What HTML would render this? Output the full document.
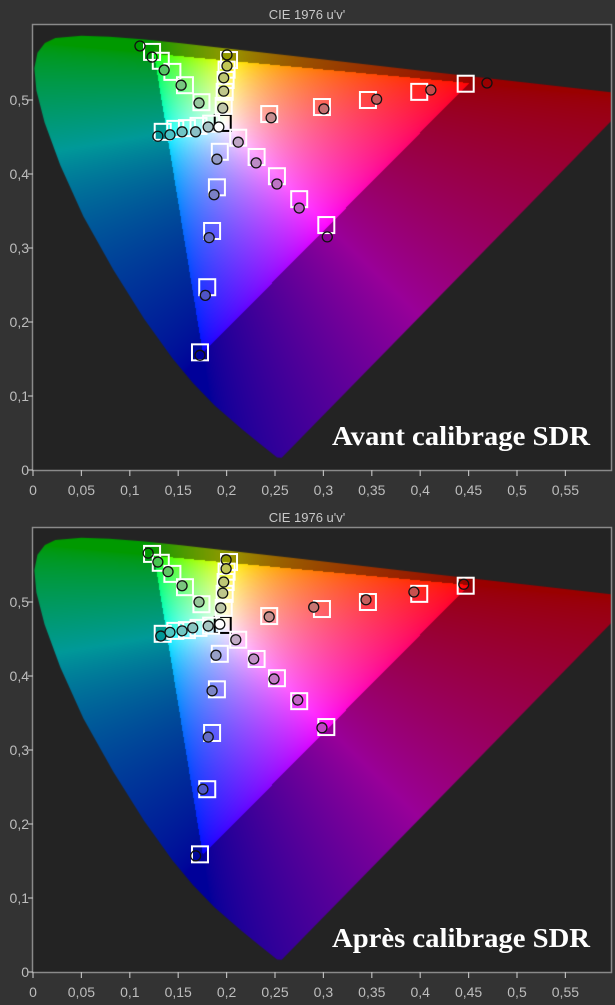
<!DOCTYPE html>
<html><head><meta charset="utf-8">
<style>
html,body{margin:0;padding:0;background:#333333;}
#wrap{position:relative;width:615px;height:1005px;overflow:hidden;background:#333333;font-family:"Liberation Sans",sans-serif;}
canvas{position:absolute;}
svg{position:absolute;left:0;top:0;}
</style></head>
<body>
<div id="wrap">
<canvas id="cv1"></canvas>
<canvas id="cv2"></canvas>
<svg id="sv" width="615" height="1005"></svg>
</div>
<script>
// ---- data ----
const seriesNames = ['white','green','green','green','green','green','yellow','yellow','yellow','yellow','yellow','cyan','cyan','cyan','cyan','cyan','blue','blue','blue','blue','blue','magenta','magenta','magenta','magenta','magenta','red','red','red','red','red'];
const targetU = [0.196,0.123,0.132,0.144,0.157,0.174,0.2025,0.200,0.199,0.198,0.197,0.134,0.147,0.159,0.171,0.184,0.193,0.190,0.185,0.180,0.1725,0.212,0.231,0.252,0.275,0.303,0.244,0.2985,0.346,0.399,0.447];
const targetV = [0.469,0.565,0.553,0.538,0.520,0.497,0.554,0.541,0.527,0.511,0.492,0.457,0.461,0.462,0.465,0.468,0.430,0.382,0.323,0.247,0.159,0.449,0.423,0.397,0.366,0.331,0.481,0.4905,0.500,0.511,0.522];
const beforeU = [0.192,0.1105,0.123,0.1355,0.153,0.1715,0.2004,0.2004,0.197,0.197,0.196,0.129,0.1415,0.154,0.168,0.181,0.190,0.187,0.182,0.178,0.1725,0.212,0.2305,0.252,0.275,0.304,0.246,0.3005,0.355,0.411,0.469];
const beforeV = [0.4635,0.573,0.558,0.5405,0.520,0.496,0.561,0.546,0.530,0.512,0.489,0.451,0.453,0.457,0.457,0.4635,0.420,0.372,0.314,0.236,0.155,0.443,0.415,0.3865,0.354,0.315,0.476,0.488,0.501,0.5135,0.523];
const afterU = [0.193,0.119,0.129,0.1395,0.154,0.1715,0.1995,0.1995,0.197,0.196,0.194,0.132,0.1415,0.154,0.165,0.181,0.189,0.185,0.181,0.1755,0.168,0.2095,0.228,0.249,0.2735,0.2985,0.244,0.290,0.344,0.3935,0.445];
const afterV = [0.470,0.566,0.554,0.541,0.522,0.500,0.557,0.545,0.527,0.512,0.492,0.454,0.459,0.461,0.465,0.4675,0.428,0.380,0.3175,0.247,0.157,0.449,0.423,0.396,0.3675,0.33,0.480,0.493,0.503,0.5135,0.524];
const xTicks = [0,0.05,0.1,0.15,0.2,0.25,0.3,0.35,0.4,0.45,0.5,0.55];
const xTickLabels = ['0','0,05','0,1','0,15','0,2','0,25','0,3','0,35','0,4','0,45','0,5','0,55'];
const yTicks = [0,0.1,0.2,0.3,0.4,0.5];
const yTickLabels = ['0','0,1','0,2','0,3','0,4','0,5'];
const locusU = [0.2569,0.2522,0.2347,0.216,0.1877,0.165,0.144,0.1147,0.0828,0.0521,0.0282,0.0119,0.0035,0.0014,0.0046,0.0123,0.0231,0.05,0.0792,0.1127,0.1531,0.2026,0.2623,0.4035,0.5202,0.6234];
const locusV = [0.0165,0.0169,0.035,0.055,0.0871,0.118,0.151,0.2044,0.2708,0.3427,0.4117,0.4699,0.513,0.543,0.5638,0.577,0.5837,0.5867,0.5856,0.582,0.5766,0.5694,0.5604,0.5393,0.5219,0.5065];
const gamutU = [0.4507,0.1250,0.1754];
const gamutV = [0.5229,0.5625,0.1579];
</script>
<script>
const NS='http://www.w3.org/2000/svg';
const sv=document.getElementById('sv');
const PL=33, PR=611, SCX=968, SCY=740;
const charts=[{top:25,bottom:470,title:"CIE 1976 u'v'",label:'Avant calibrage SDR',mu:beforeU,mv:beforeV,cv:'cv1',key:'before'},
              {top:528,bottom:972,title:"CIE 1976 u'v'",label:'Après calibrage SDR',mu:afterU,mv:afterV,cv:'cv2',key:'after'}];
function uvRGB(u,v){
  const d=6*u-16*v+12, x=9*u/d, y=4*v/d;
  const X=x/y, Y=1, Z=(1-x-y)/y;
  let r=3.2406*X-1.5372*Y-0.4986*Z, g=-0.9689*X+1.8758*Y+0.0415*Z, b=0.0557*X-0.2040*Y+1.0570*Z;
  r=Math.max(r,0);g=Math.max(g,0);b=Math.max(b,0);
  const m=Math.max(r,g,b)||1;
  const gm=1/1.6;
  return [Math.pow(r/m,gm),Math.pow(g/m,gm),Math.pow(b/m,gm)];
}
function inTri(u,v){
  const [x1,x2,x3]=gamutU,[y1,y2,y3]=gamutV;
  const d=(y2-y3)*(x1-x3)+(x3-x2)*(y1-y3);
  const a=((y2-y3)*(u-x3)+(x3-x2)*(v-y3))/d, b=((y3-y1)*(u-x3)+(x1-x3)*(v-y3))/d;
  return a>=0&&b>=0&&a+b<=1;
}
function mk(tag,attrs,parent){const e=document.createElementNS(NS,tag);for(const k in attrs)e.setAttribute(k,attrs[k]);(parent||sv).appendChild(e);return e;}
charts.forEach((c,ci)=>{
  const xs=u=>PL+u*SCX, ys=v=>c.bottom-v*SCY;
  const cv=document.getElementById(c.cv);
  const W=PR-PL, H=c.bottom-c.top;
  cv.width=W;cv.height=H;cv.style.left=PL+'px';cv.style.top=c.top+'px';
  const ctx=cv.getContext('2d');
  ctx.fillStyle='#232323';ctx.fillRect(0,0,W,H);
  const off=document.createElement('canvas');off.width=W;off.height=H;
  const oc=off.getContext('2d');const img=oc.createImageData(W,H);
  for(let py=0;py<H;py++)for(let px=0;px<W;px++){
    const u=(px+0.5)/SCX, v=(c.bottom-(c.top+py+0.5))/SCY;
    if(v<=0.005)continue;
    const rgb=uvRGB(u,v);const f=inTri(u,v)?1:0.6;
    const i=(py*W+px)*4;
    img.data[i]=rgb[0]*255*f;img.data[i+1]=rgb[1]*255*f;img.data[i+2]=rgb[2]*255*f;img.data[i+3]=255;
  }
  oc.putImageData(img,0,0);
  ctx.save();ctx.beginPath();
  for(let i=0;i<locusU.length;i++){const X=locusU[i]*SCX,Y=c.bottom-locusV[i]*SCY-c.top;if(i)ctx.lineTo(X,Y);else ctx.moveTo(X,Y);}
  ctx.closePath();ctx.clip();ctx.drawImage(off,0,0);ctx.restore();
  const g=mk('g',{});
  
  
  const fr=mk('rect',{x:PL-0.5,y:c.top-0.5,width:W+1,height:H+1,fill:'none',stroke:'#8a8a8a','stroke-width':1.5},g);
  
  const t=mk('text',{x:307,y:c.top-6,'text-anchor':'middle','font-size':13,fill:'#c8c8c8'},g);
  t.textContent=c.title;
  
  xTicks.forEach((tv,i)=>{
    const x=xs(tv);
    const tk=mk('line',{x1:x,x2:x,y1:c.bottom,y2:c.bottom+6,stroke:'#bbb','stroke-width':1.2},g);
    
    const tl=mk('text',{x:x,y:c.bottom+25,'text-anchor':'middle','font-size':14,fill:'#bdbdbd'},g);
    tl.textContent=xTickLabels[i];
    
  });
  yTicks.forEach((tv,i)=>{
    const y=ys(tv);
    const tk=mk('line',{x1:PL-5,x2:PL,y1:y,y2:y,stroke:'#bbb','stroke-width':1.2},g);
    
    const tl=mk('text',{x:PL-4,y:y+5,'text-anchor':'end','font-size':14,fill:'#bdbdbd'},g);
    tl.textContent=yTickLabels[i];
    
  });
  targetU.forEach((u,i)=>{
    const x=xs(u),y=ys(targetV[i]);
    const sq=mk('rect',{x:x-8,y:y-8,width:16,height:16,fill:'none',stroke:i===0?'#000':'#fff','stroke-width':2},g);
    
    
  });
  c.mu.forEach((u,i)=>{
    const v=c.mv[i];const x=xs(u),y=ys(v);
    let fill;
    if(i===0)fill='#ffffff';
    else if(!inTri(u,v))fill='none';
    else{const rgb=uvRGB(u,v);fill='rgb('+rgb.map(q=>Math.round(q*255*0.55+128*0.45)).join(',')+')';}
    const ci2=mk('circle',{cx:x,cy:y,r:5,fill:fill,stroke:'#111','stroke-width':1.3},g);
    
    
  });
  const lb=mk('text',{x:590,y:c.bottom-25,'text-anchor':'end','font-size':27,'font-weight':'bold','font-family':'"Liberation Serif",serif',fill:'#ffffff',textLength:258,lengthAdjust:'spacingAndGlyphs'},g);
  lb.textContent=c.label;
  
});
</script>
</body></html>
